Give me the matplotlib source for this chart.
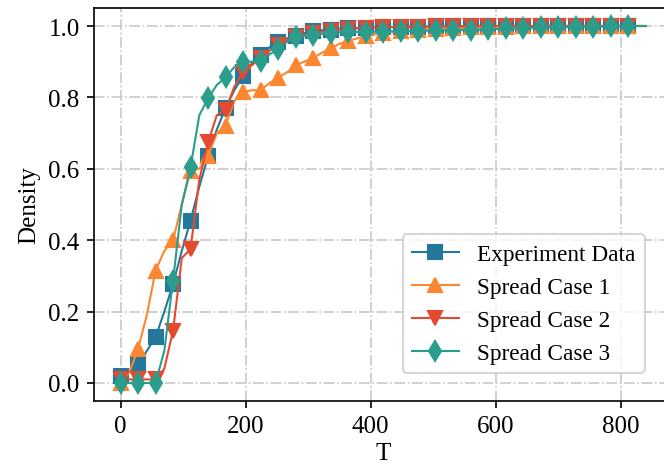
import matplotlib
matplotlib.use("Agg")
import matplotlib.pyplot as plt
import numpy as np

T = list(range(0, 841, 14))

experiment = [0.02, 0.03, 0.05, 0.09, 0.128, 0.20, 0.277, 0.37, 0.455, 0.55,
              0.635, 0.71, 0.77, 0.82, 0.86, 0.895, 0.92, 0.94, 0.955, 0.965,
              0.972, 0.98, 0.985, 0.988, 0.99, 0.992, 0.993, 0.994, 0.995, 0.996,
              0.997, 0.997, 0.998, 0.998, 0.998, 0.998, 0.999, 0.999, 0.999, 0.999,
              0.999] + [1.0] * 20

case1 = [0.0, 0.03, 0.095, 0.19, 0.315, 0.37, 0.40, 0.50, 0.595, 0.60,
         0.635, 0.70, 0.72, 0.79, 0.815, 0.82, 0.82, 0.84, 0.855, 0.87,
         0.89, 0.90, 0.91, 0.925, 0.937, 0.95, 0.958, 0.965, 0.972, 0.977,
         0.98, 0.983, 0.985, 0.987, 0.989, 0.99, 0.992, 0.993, 0.994, 0.995,
         0.996, 0.997, 0.997, 0.998, 0.998, 0.998, 0.999, 0.999, 0.999, 0.999,
         1.0] + [1.0] * 10

case2 = [0.01, 0.01, 0.01, 0.01, 0.01, 0.04, 0.147, 0.35, 0.375, 0.57,
         0.674, 0.75, 0.765, 0.83, 0.87, 0.89, 0.91, 0.93, 0.948, 0.96,
         0.968, 0.975, 0.98, 0.984, 0.987, 0.99, 0.992, 0.993, 0.994, 0.995,
         0.996, 0.997, 0.997, 0.998, 0.998, 0.998, 0.999, 0.999, 0.999, 0.999,
         1.0] + [1.0] * 20

case3 = [0.0, 0.0, 0.0, 0.0, 0.0, 0.09, 0.287, 0.50, 0.604, 0.75,
         0.797, 0.835, 0.856, 0.885, 0.898, 0.90, 0.903, 0.92, 0.936, 0.955,
         0.968, 0.972, 0.975, 0.978, 0.98, 0.982, 0.982, 0.983, 0.983, 0.984,
         0.984, 0.985, 0.986, 0.986, 0.987, 0.987, 0.988, 0.988, 0.989, 0.989,
         0.99, 0.99, 0.991, 0.992, 0.993, 0.994, 0.995, 0.995, 0.996, 0.996,
         0.997, 0.997, 0.997, 0.998, 0.998, 0.998, 0.999, 0.999, 0.999, 1.0,
         1.0]

labels = ["Experiment Data", "Spread Case 1", "Spread Case 2", "Spread Case 3"]
colors = ["#23789c", "#fd8631", "#e34a30", "#2a9d8c"]
markers = ["s", "^", "v", "d"]

plt.rcParams['font.family'] = ['Liberation Serif', 'DejaVu Serif']
plt.rcParams['font.size'] = 12

fig = plt.figure(figsize=(664 / 150, 466 / 150), dpi=150)
ax = fig.add_axes([94.3 / 664, (466 - 401.85) / 466, 577.5 / 664, 392.7 / 466])

mk = list(range(0, len(T) - 1, 2))
for series, lab, c, m in zip([experiment, case1, case2, case3], labels, colors, markers):
    ax.plot(T, series, color=c, marker=m, markevery=mk, markersize=7,
            linewidth=1.0, markeredgecolor=c, label=lab)

ax.set_xlabel("T", labelpad=2)
ax.set_ylabel("Density")
ax.set_xticks([0, 200, 400, 600, 800])
ax.set_yticks([0.0, 0.2, 0.4, 0.6, 0.8, 1.0])
ax.grid(True, linestyle='-.', color='#c8c8c8', linewidth=0.8)
ax.set_axisbelow(True)

leg = ax.legend(loc='lower right', bbox_to_anchor=(645 / 664, (466 - 374) / 466),
                bbox_transform=fig.transFigure, borderaxespad=0, fontsize=11.2)

fig.savefig("out.png", dpi=150)
